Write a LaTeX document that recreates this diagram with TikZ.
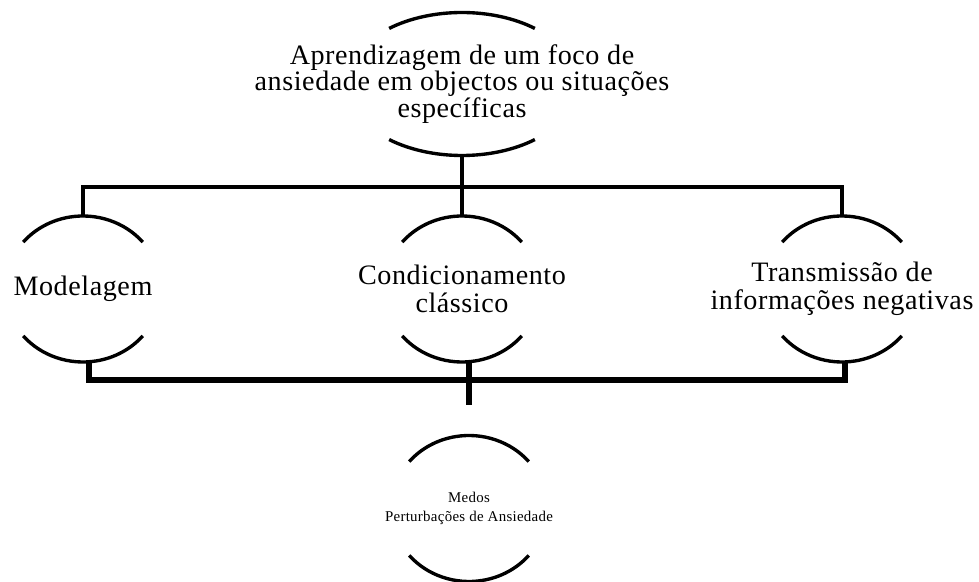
\documentclass[tikz,border=0pt]{standalone}
\usepackage{fontspec}
\setmainfont{Liberation Serif}[LetterSpace=2]
\usetikzlibrary{positioning,calc}

\begin{document}
\begin{tikzpicture}[x=0.025cm, y=0.025cm,
	stage/.style={rectangle, inner sep=0pt, minimum height=3.65cm, align=center, font=\fontsize{20}{20}\selectfont},
	stage top/.style={stage, minimum height=3.575cm, font=\fontsize{20}{18.7}\selectfont},
	stage end/.style={stage, font=\fontsize{10.6}{13.5}\selectfont},
	bow/.style={line width=2.4pt},
	link/.style={line width=2.4pt},
	bus/.style={line width=3.8pt}]

	\useasboundingbox (0,0) rectangle (979,-582);

	\node [stage top] (learning) at (462,-84) {Aprendizagem de um foco de\\ansiedade em objectos ou situações\\específicas};
	\node [stage] (modelling) at (83,-289) {Modelagem};
	\node [stage] (classical) at (462,-289) {Condicionamento\\clássico};
	\node [stage] (transmission) at (842,-289) {Transmissão de\\informações negativas};
	\node [stage end] (fears) at (469,-508.5) {Medos\\Perturbações de Ansiedade};

	\foreach \n/\rx/\ry/\t in {learning/115.8/71.5/51, modelling/78/73/40, classical/78/73/40, transmission/78/73/40, fears/78/73/40}
	{
		\draw [bow] ([shift={({\rx*cos(\t)},{\ry*sin(\t)})}]\n.center) arc [start angle=\t, end angle=180-\t, x radius=\rx, y radius=\ry];
		\draw [bow] ([shift={({-\rx*cos(\t)},{-\ry*sin(\t)})}]\n.center) arc [start angle=180+\t, end angle=360-\t, x radius=\rx, y radius=\ry];
	}

	\coordinate (top bus) at (462,-187);
	\draw [link] (learning.south) -- (top bus);
	\draw [link] (modelling.north) |- (top bus) -| (transmission.north);
	\draw [link] (top bus) -- (classical.north);

	\coordinate (low bus) at (469,-380);
	\coordinate (drop end) at (469,-405);
	\draw [bus] ([shift={(6,0)}]modelling.south) |- (low bus) -| ([shift={(3,0)}]transmission.south);
	\draw [bus] ([shift={(7,0)}]classical.south) -- (drop end);

\end{tikzpicture}
\end{document}
